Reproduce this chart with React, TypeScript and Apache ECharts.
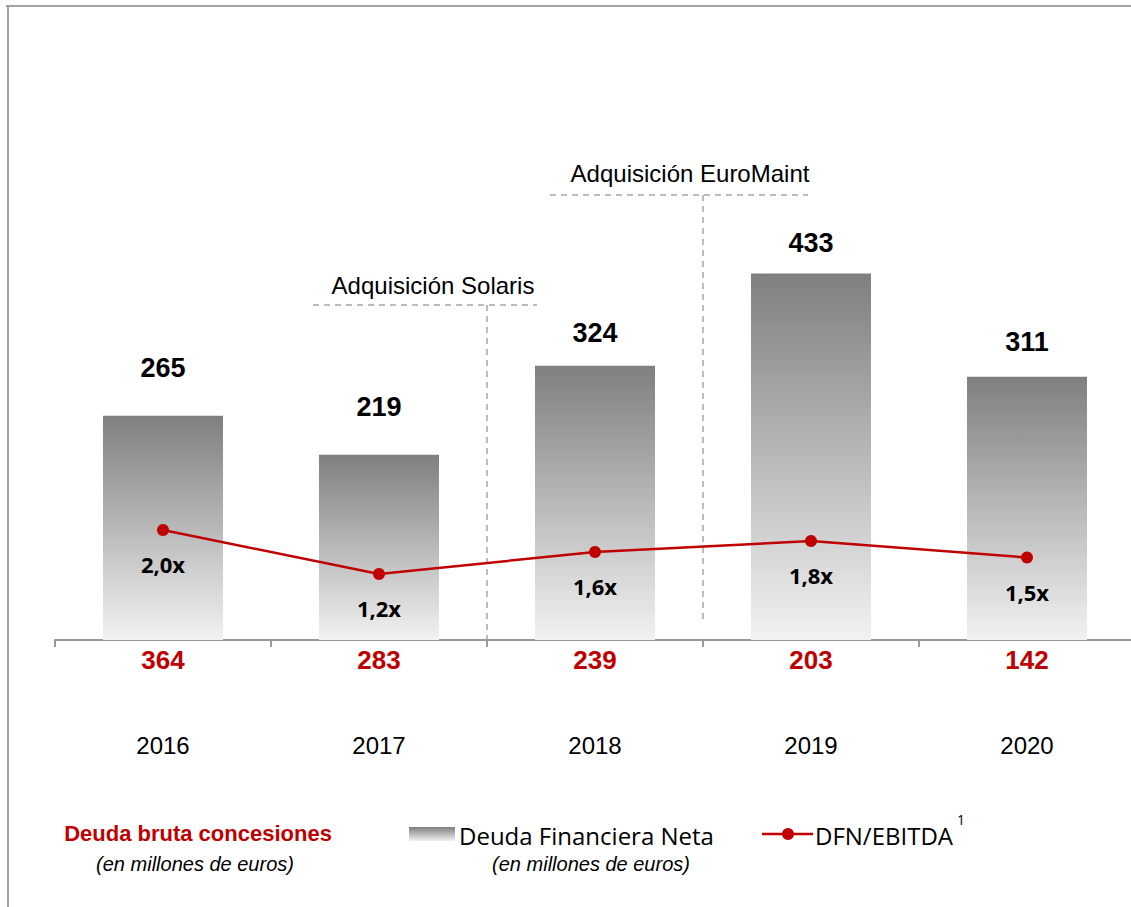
import React, { useEffect, useRef } from "react";
import * as echarts from "echarts";

const years = ["2016", "2017", "2018", "2019", "2020"];
const netDebt = [265, 219, 324, 433, 311];
const dfnEbitda = [2.0, 1.2, 1.6, 1.8, 1.5];
const grossConcessionDebt = [364, 283, 239, 203, 142];

const NARROW = '"Liberation Sans Narrow", "Arial Narrow", "Liberation Sans", sans-serif';
const CAL = '"Open Sans", sans-serif';
const RED = "#c00000";
const FRAME = "#a3a3a3";

export default function App() {
  const ref = useRef<HTMLDivElement>(null);
  useEffect(() => {
    if (!ref.current) return;
    const chart = echarts.init(ref.current, null, { renderer: "svg" });
    const gridLeft = 55;
    const gridTop = 200;
    const gridH = 440;
    const catW = 216;
    const barLabelGap = [34, 34, 19, 17, 21];
    const dash = { stroke: "#a6a6a6", lineWidth: 1.5, lineDash: [6, 5] };
    chart.setOption({
      animation: false,
      backgroundColor: "#ffffff",
      grid: { left: gridLeft, top: gridTop, width: catW * 5, height: gridH, containLabel: false, outerBoundsMode: "none" },
      xAxis: {
        type: "category",
        data: years,
        boundaryGap: true,
        axisLine: { show: true, lineStyle: { color: "#999999", width: 2 } },
        axisTick: { show: true, length: 7, lineStyle: { color: "#999999", width: 2 } },
        axisLabel: {
          margin: 4,
          formatter: (v: string, i: number) => `{a|${grossConcessionDebt[i]}}\n{b|${v}}`,
          rich: {
            a: { color: RED, fontWeight: "bold", fontSize: 26, fontFamily: NARROW, lineHeight: 32 },
            b: { color: "#000", fontSize: 24, fontFamily: NARROW, lineHeight: 138 },
          },
        },
      },
      yAxis: [
        { type: "value", min: 0, max: 520, show: false, splitLine: { show: false } },
        { type: "value", min: 0, max: 8, show: false, splitLine: { show: false } },
      ],
      series: [
        {
          name: "Deuda Financiera Neta",
          type: "bar",
          data: netDebt.map((v, i) => ({ value: v, label: { distance: barLabelGap[i] } })),
          barWidth: 120,
          itemStyle: {
            color: new echarts.graphic.LinearGradient(0, 0, 0, 1, [
              { offset: 0, color: "#7f7f7f" },
              { offset: 1, color: "#f2f2f2" },
            ]),
          },
          label: {
            show: true,
            position: "top",
            distance: 34,
            color: "#000",
            fontWeight: "bold",
            fontSize: 27,
            fontFamily: NARROW,
          },
          z: 2,
        },
        {
          name: "DFN/EBITDA",
          type: "line",
          yAxisIndex: 1,
          data: dfnEbitda,
          symbol: "circle",
          symbolSize: 12,
          lineStyle: { color: RED, width: 2.5 },
          itemStyle: { color: RED },
          label: {
            show: true,
            position: "bottom",
            distance: 17,
            color: "#000",
            fontWeight: "bold",
            fontSize: 22,
            fontFamily: CAL,
            formatter: (p: any) => p.value.toFixed(1).replace(".", ",") + "x",
          },
          z: 5,
        },
      ],
      graphic: [
        // frame
        { type: "line", shape: { x1: 8, y1: 6, x2: 8, y2: 907 }, style: { stroke: FRAME, lineWidth: 2 } },
        { type: "line", shape: { x1: 6, y1: 6, x2: 1131, y2: 6 }, style: { stroke: FRAME, lineWidth: 2 } },
        // Solaris annotation
        { type: "line", shape: { x1: 313, y1: 305, x2: 537, y2: 305 }, style: dash },
        { type: "line", shape: { x1: 487, y1: 305, x2: 487, y2: 640 }, style: dash },
        {
          type: "text",
          x: 433,
          y: 285,
          style: { text: "Adquisición Solaris", fontSize: 24, fontFamily: NARROW, fill: "#000", align: "center", verticalAlign: "middle" },
        },
        // EuroMaint annotation
        { type: "line", shape: { x1: 550, y1: 195, x2: 808, y2: 195 }, style: dash },
        { type: "line", shape: { x1: 703, y1: 195, x2: 703, y2: 620 }, style: dash },
        {
          type: "text",
          x: 690,
          y: 173,
          style: { text: "Adquisición EuroMaint", fontSize: 24, fontFamily: NARROW, fill: "#000", align: "center", verticalAlign: "middle" },
        },
        // legend left
        {
          type: "text",
          x: 198,
          y: 833,
          style: { text: "Deuda bruta concesiones", fontSize: 22, fontWeight: "bold", fontFamily: NARROW, fill: RED, align: "center", verticalAlign: "middle" },
        },
        {
          type: "text",
          x: 195,
          y: 864,
          style: { text: "(en millones de euros)", fontSize: 20, fontStyle: "italic", fontFamily: NARROW, fill: "#000", align: "center", verticalAlign: "middle" },
        },
        // legend bar
        {
          type: "rect",
          shape: { x: 409, y: 827, width: 46, height: 14 },
          style: {
            fill: new echarts.graphic.LinearGradient(0, 0, 0, 1, [
              { offset: 0, color: "#7f7f7f" },
              { offset: 1, color: "#f2f2f2" },
            ]),
          },
        },
        {
          type: "text",
          x: 459,
          y: 835,
          style: { text: "Deuda Financiera Neta", fontSize: 24, fontFamily: CAL, fill: "#000", align: "left", verticalAlign: "middle" },
        },
        {
          type: "text",
          x: 591,
          y: 864,
          style: { text: "(en millones de euros)", fontSize: 20, fontStyle: "italic", fontFamily: NARROW, fill: "#000", align: "center", verticalAlign: "middle" },
        },
        // legend line
        { type: "line", shape: { x1: 762, y1: 834, x2: 813, y2: 834 }, style: { stroke: RED, lineWidth: 2.5 } },
        { type: "circle", shape: { cx: 788, cy: 834, r: 6 }, style: { fill: RED } },
        {
          type: "text",
          x: 815,
          y: 835,
          style: { text: "DFN/EBITDA", fontSize: 24, fontFamily: CAL, fill: "#000", align: "left", verticalAlign: "middle" },
        },
        {
          type: "text",
          x: 957,
          y: 819,
          style: { text: "1", fontSize: 14, fontFamily: CAL, fill: "#000", align: "left", verticalAlign: "middle" },
        },
      ],
    });
    return () => chart.dispose();
  }, []);
  return (
    <div
      ref={ref}
      style={{ position: "absolute", left: 0, top: 0, width: 1131, height: 907, background: "#fff" }}
    />
  );
}
